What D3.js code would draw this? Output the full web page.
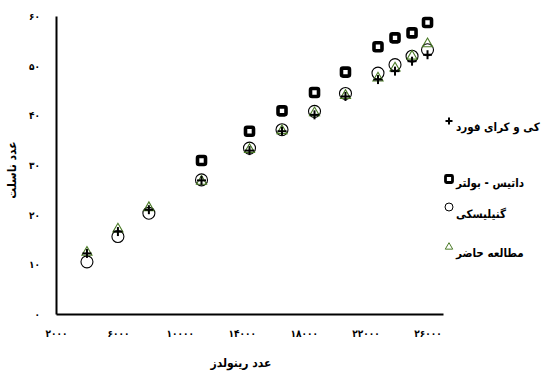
<!DOCTYPE html>
<html><head><meta charset="utf-8">
<script src="https://cdn.jsdelivr.net/npm/d3@7"></script>
<style>
html,body{margin:0;padding:0;background:#fff;}
svg{display:block;font-family:"DejaVu Sans Condensed","DejaVu Sans",sans-serif;}
</style></head>
<body>
<svg id="chart" width="541" height="372"></svg>
<script>
const reynolds = [4000, 6000, 8000, 11400, 14500, 16600, 18700, 20700, 22800, 23900, 25000, 26000];
const kaysCrawford = [12.2, 16.6, 21.0, 26.9, 32.9, 36.8, 40.1, 43.8, 47.2, 48.9, 50.9, 52.2];
const gnielinski = [10.5, 15.6, 20.3, 27.0, 33.4, 37.1, 40.8, 44.4, 48.5, 50.2, 51.9, 53.2];
const present = [12.4, 17.1, 21.4, 26.7, 33.1, 36.9, 40.5, 44.0, 47.5, 49.5, 51.9, 54.4];
const dittusBoelter = [null, null, null, 30.9, 36.8, 40.9, 44.6, 48.7, 53.8, 55.6, 56.6, 58.7];
const xTicks = [2000, 6000, 10000, 14000, 18000, 22000, 26000];
const yTicks = [0, 10, 20, 30, 40, 50, 60];
const legendLabels = ["کی و کرای فورد", "داتیس - بولتر", "گنیلیسکی", "مطالعه حاضر"];
const xTitle = "عدد رینولدز";
const yTitle = "عدد ناسلت";

const fa = n => String(n).replace(/\d/g, d => "۰۱۲۳۴۵۶۷۸۹"[d]);
const svg = d3.select("#chart");
const green = "#4a7a26";
const FONT = '"DejaVu Sans Condensed","DejaVu Sans",sans-serif';

const x = d3.scaleLinear().domain([2000, 27000]).range([56, 443]);
const y = d3.scaleLinear().domain([0, 60]).range([314, 16]);

// axes
const xAxis = svg.append("g").attr("transform", "translate(0,314)")
  .call(d3.axisBottom(x).tickValues(xTicks).tickSize(0).tickSizeOuter(0).tickPadding(16).tickFormat(fa));
const yAxis = svg.append("g").attr("transform", "translate(56,0)")
  .call(d3.axisLeft(y).tickValues(yTicks).tickSize(0).tickSizeOuter(0).tickPadding(16).tickFormat(fa));
[xAxis, yAxis].forEach(a => {
  a.select(".domain").attr("stroke", "#000").attr("stroke-width", 2);
  a.selectAll("text").attr("font-size", 10).attr("font-weight", "bold").attr("fill", "#000")
    .attr("font-family", FONT);
});
yAxis.selectAll("text").attr("dy", "0.35em");

svg.append("text").attr("x", 241).attr("y", 367).attr("text-anchor", "middle")
  .attr("font-size", 12).attr("font-weight", "bold").text(xTitle);
svg.append("text").attr("transform", "translate(16,170) rotate(-90)").attr("text-anchor", "middle")
  .attr("font-size", 12).attr("font-weight", "bold").text(yTitle);

const idx = d3.range(reynolds.length);

// squares (Dittus-Boelter)
svg.append("g").selectAll("rect").data(idx.filter(i => dittusBoelter[i] != null)).join("rect")
  .attr("x", i => x(reynolds[i]) - 4).attr("y", i => y(dittusBoelter[i]) - 4)
  .attr("width", 8).attr("height", 8).attr("rx", 1.5)
  .attr("fill", "#fff").attr("stroke", "#000").attr("stroke-width", 3.6);

// circles (Gnielinski)
svg.append("g").selectAll("circle").data(idx).join("circle")
  .attr("cx", i => x(reynolds[i])).attr("cy", i => y(gnielinski[i])).attr("r", 6)
  .attr("fill", "none").attr("stroke", "#000").attr("stroke-width", 1.1);

// triangles (present study)
const tri = d3.symbol().type(d3.symbolTriangle).size(44);
svg.append("g").selectAll("path").data(idx).join("path")
  .attr("transform", i => `translate(${x(reynolds[i])},${y(present[i])})`)
  .attr("d", tri).attr("fill", "none").attr("stroke", green).attr("stroke-width", 1.1);

// plus (Kays & Crawford)
function plus(g, cx, cy, h) {
  g.append("line").attr("x1", cx - h).attr("x2", cx + h).attr("y1", cy).attr("y2", cy);
  g.append("line").attr("x1", cx).attr("x2", cx).attr("y1", cy - h).attr("y2", cy + h);
}
const pg = svg.append("g").attr("stroke", "#000").attr("stroke-width", 2);
idx.forEach(i => plus(pg, x(reynolds[i]), y(kaysCrawford[i]), 4.5));

// legend
const lg = svg.append("g");
const lx = 449;
const ly = [127, 183, 214, 253];
const lp = lg.append("g").attr("stroke", "#000").attr("stroke-width", 2);
plus(lp, lx, ly[0] - 6, 3.5);
lg.append("rect").attr("x", lx - 3.5).attr("y", ly[1] - 7.5).attr("width", 7).attr("height", 7).attr("rx", 1)
  .attr("fill", "#fff").attr("stroke", "#000").attr("stroke-width", 2.8);
lg.append("circle").attr("cx", lx).attr("cy", ly[2] - 7).attr("r", 4)
  .attr("fill", "none").attr("stroke", "#000").attr("stroke-width", 1);
lg.append("path").attr("transform", `translate(${lx},${ly[3] - 6})`)
  .attr("d", d3.symbol().type(d3.symbolTriangle).size(24)).attr("fill", "none").attr("stroke", green).attr("stroke-width", 1);
lg.selectAll("text.leg").data(legendLabels).join("text").attr("class", "leg")
  .attr("x", 456).attr("y", (d, i) => ly[i]).attr("dy", "0.35em")
  .attr("font-size", 11.5).attr("font-weight", "bold").attr("font-family", FONT)
  .attr("fill", "#000").text(d => d);
</script>
</body></html>
